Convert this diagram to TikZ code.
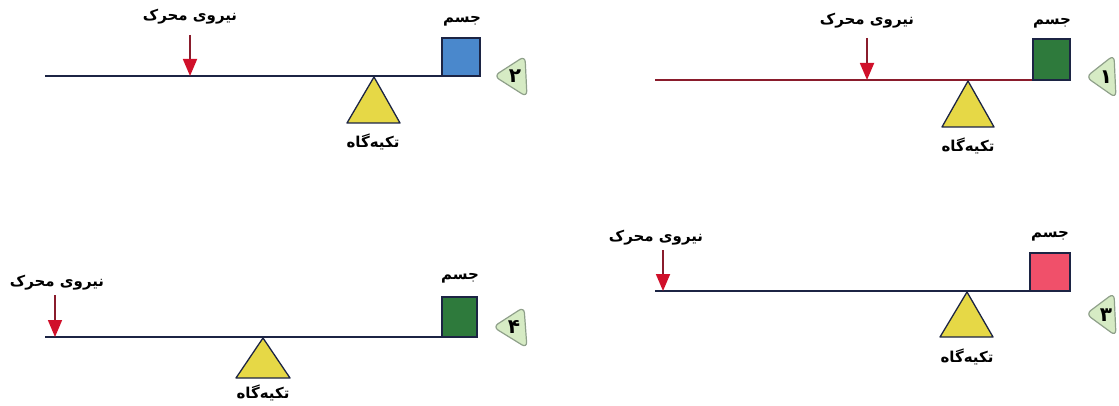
\documentclass[tikz,border=0pt]{standalone}
\usepackage{fontspec}
\usetikzlibrary{arrows.meta}
\TeXXeTstate=1
\newfontfamily\fafont[Script=Arabic]{DejaVu Sans}
\definecolor{beamred}{HTML}{8A1C2C}
\definecolor{beamblue}{HTML}{1C2444}
\definecolor{forcered}{HTML}{D0102A}
\definecolor{fulyellow}{HTML}{E6D846}
\definecolor{boxgreen}{HTML}{2E7A3C}
\definecolor{boxblue}{HTML}{4A88CC}
\definecolor{boxred}{HTML}{F0506A}
\definecolor{badgefill}{HTML}{D6EBC4}
\definecolor{badgeline}{HTML}{8FA08A}
\tikzset{
  beam/.style={line width=1.8pt},
  body/.style={draw=beamblue, line width=1.3pt},
  force/.style={draw=beamred, line width=1.8pt, -{Triangle[length=17pt,width=14pt,fill=forcered,color=forcered]}},
  fulcrum/.style={draw=beamblue, line width=1.3pt, fill=fulyellow, line join=round},
  lbl/.style={font=\fafont\bfseries\fontsize{15}{17}\selectfont, inner sep=0pt, text=black},
  badge/.style={draw=badgeline, line width=1.2pt, fill=badgefill, rounded corners=6pt},
  num/.style={font=\fafont\bfseries\fontsize{20}{22}\selectfont, inner sep=0pt}
}
\newcommand{\fa}[1]{\beginR #1\endR}
\begin{document}
\begin{tikzpicture}[x=1pt,y=-1pt]
\useasboundingbox (0,0) rectangle (1119,406);
% ---------- panel 1 (top right)
\draw[beam, draw=beamred] (655,80) -- (1033,80);
\draw[body, fill=boxgreen] (1033,80) rectangle (1070,39);
\node[lbl] (m1) at (1052,23) {\fa{جسم}};
\draw[force] (867,38) -- (867,80);
\node[lbl] (n1) at (867,21) {\fa{نیروی محرک}};
\draw[fulcrum] (968,81) -- (994,127) -- (942,127) -- cycle;
\node[lbl] (t1) at (968,146) {\fa{تکیه‌گاه}};
\draw[badge] (1086,77) -- (1114,55) -- (1116,98) -- cycle;
\node[num] (k1) at (1106,77) {۱};
% ---------- panel 2 (top left)
\draw[beam, draw=beamblue] (45,76) -- (442,76);
\draw[body, fill=boxblue] (442,76) rectangle (480,38);
\node[lbl] (m2) at (462,21) {\fa{جسم}};
\draw[force] (190,35) -- (190,76);
\node[lbl] (n2) at (190,17) {\fa{نیروی محرک}};
\draw[fulcrum] (374,77) -- (400,123) -- (347,123) -- cycle;
\node[lbl] (t2) at (373,142) {\fa{تکیه‌گاه}};
\draw[badge] (494,76) -- (525,56) -- (527,97) -- cycle;
\node[num] (k2) at (515,76) {۲};
% ---------- panel 3 (bottom right)
\draw[beam, draw=beamblue] (655,291) -- (1030,291);
\draw[body, fill=boxred] (1030,291) rectangle (1070,253);
\node[lbl] (m3) at (1050,236) {\fa{جسم}};
\draw[force] (663,250) -- (663,291);
\node[lbl] (n3) at (656,238) {\fa{نیروی محرک}};
\draw[fulcrum] (967,292) -- (993,337) -- (940,337) -- cycle;
\node[lbl] (t3) at (967,357) {\fa{تکیه‌گاه}};
\draw[badge] (1086,314) -- (1114,293) -- (1116,336) -- cycle;
\node[num] (k3) at (1106,315) {۳};
% ---------- panel 4 (bottom left)
\draw[beam, draw=beamblue] (45,337) -- (442,337);
\draw[body, fill=boxgreen] (442,337) rectangle (477,297);
\node[lbl] (m4) at (460,278) {\fa{جسم}};
\draw[force] (55,295) -- (55,337);
\node[lbl] (n4) at (57,283) {\fa{نیروی محرک}};
\draw[fulcrum] (263,338) -- (290,378) -- (236,378) -- cycle;
\node[lbl] (t4) at (263,393) {\fa{تکیه‌گاه}};
\draw[badge] (493,327) -- (524,307) -- (527,348) -- cycle;
\node[num] (k4) at (514,327) {۴};
\end{tikzpicture}
\end{document}
